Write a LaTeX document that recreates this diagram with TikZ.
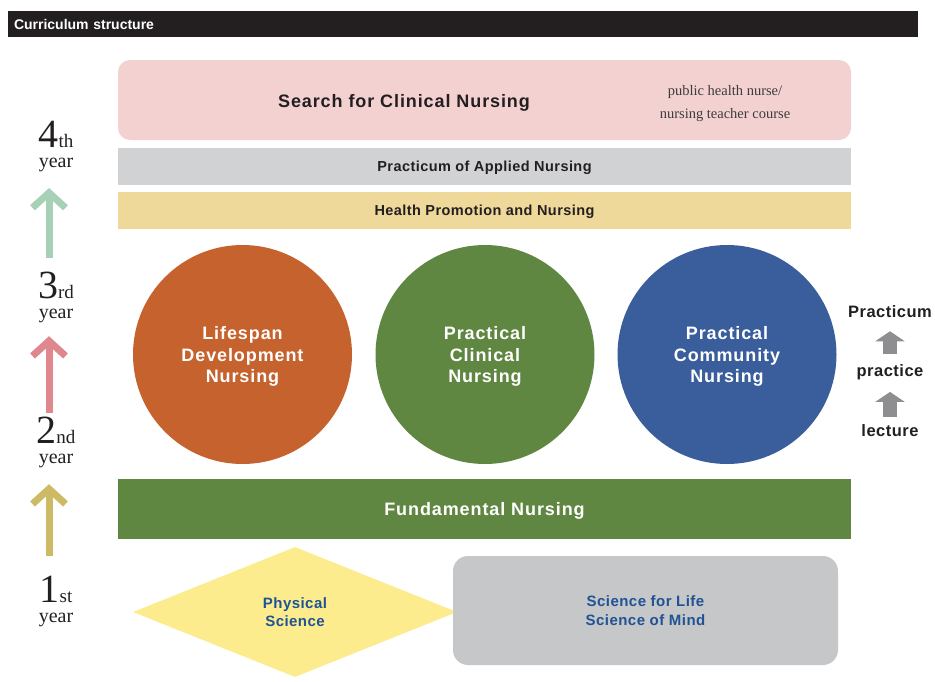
\documentclass[tikz,border=0pt]{standalone}
\usepackage{fontspec}
\setmainfont{Liberation Serif}
\setsansfont{Liberation Sans}
\newfontfamily\trackfont[LetterSpace=5]{Liberation Sans}
\newfontfamily\smalltrack[LetterSpace=3]{Liberation Sans}
\usetikzlibrary{shapes.geometric,arrows.meta}

\definecolor{headback}{RGB}{35,31,32}
\definecolor{searchpink}{RGB}{244,209,209}
\definecolor{appliedgrey}{RGB}{209,210,212}
\definecolor{promoyellow}{RGB}{238,217,154}
\definecolor{lifeorange}{RGB}{198,98,45}
\definecolor{clingreen}{RGB}{96,135,66}
\definecolor{commblue}{RGB}{58,94,155}
\definecolor{physyellow}{RGB}{252,236,142}
\definecolor{mindgrey}{RGB}{198,199,201}
\definecolor{sciblue}{RGB}{31,83,148}
\definecolor{arrowgreen}{RGB}{167,209,182}
\definecolor{arrowpink}{RGB}{224,134,141}
\definecolor{arrowgold}{RGB}{204,187,100}
\definecolor{stepgrey}{RGB}{142,142,144}
\definecolor{serifgrey}{RGB}{60,60,60}

\newcommand\bigsans{\trackfont\bfseries\fontsize{18}{21.5}\selectfont}
\newcommand\barsans{\smalltrack\bfseries\fontsize{14.5}{16}\selectfont}
\newcommand\yearnum[2]{{\fontsize{40}{40}\selectfont #1}{\fontsize{19}{19}\selectfont #2}}

\tikzset{
  layer/.style={minimum width=733pt,inner sep=0pt,text depth=0pt},
  ring/.style={circle,minimum size=219pt,inner sep=0pt,text depth=-2pt,text=white,align=center,font=\bigsans},
  barlabel/.style={text=headback,font=\barsans},
  yearlbl/.style={anchor=north,inner sep=0pt,align=center,text=headback,
    font=\fontsize{20}{20}\selectfont},
  yeararrow/.style={line width=7pt,-{Straight Barb[length=15pt,width=33pt,line width=7pt]}},
  steplbl/.style={inner sep=0pt,text=headback,font=\smalltrack\bfseries\fontsize{16.5}{17}\selectfont},
  steparrow/.style={draw=stepgrey,line width=14pt,-{Triangle[length=10pt,width=29pt]}},
  scilabel/.style={text=sciblue,align=center,font=\smalltrack\bfseries\fontsize{15}{18.5}\selectfont}
}

\begin{document}
\begin{tikzpicture}[x=1pt,y=-1pt]
\useasboundingbox (0,0) rectangle (935,681);

% title bar
\node[fill=headback,text=white,minimum height=26pt,text width=898pt,inner xsep=6pt,inner ysep=0pt,
  align=left,font=\sffamily\bfseries\fontsize{14}{15}\selectfont] (head) at (463,24) {Curriculum structure};

% upper layers
\node[layer,fill=searchpink,rounded corners=12pt,minimum height=80pt] (search) at (484.5,100) {};
\node[text=headback,font=\bigsans,text depth=0pt] (searchlbl) at (404,101) {Search for Clinical Nursing};
\node[text=serifgrey,align=center,font=\fontsize{14.5}{23}\selectfont] (course) at (725,104)
  {public health nurse/\\nursing teacher course};
\node[layer,fill=appliedgrey,minimum height=37pt,barlabel] (applied) at (484.5,166.5) {Practicum of Applied Nursing};
\node[layer,fill=promoyellow,minimum height=37pt,barlabel] (promo) at (484.5,210.5) {Health Promotion and Nursing};

% the three circles
\node[ring,fill=lifeorange] (life) at (242.5,354.5) {Lifespan\\Development\\Nursing};
\node[ring,fill=clingreen] (clinic) at (485,354.5) {Practical\\Clinical\\Nursing};
\node[ring,fill=commblue] (community) at (727,354.5) {Practical\\Community\\Nursing};

\node[layer,fill=clingreen,minimum height=60pt,text=white,font=\bigsans] (fund) at (484.5,509) {Fundamental Nursing};

% basic sciences
\node[diamond,fill=physyellow,minimum width=324pt,minimum height=130pt,aspect=2.5,inner sep=0pt,scilabel]
  (phys) at (295,612) {Physical\\Science};
\node[fill=mindgrey,rounded corners=15pt,minimum width=385pt,minimum height=109pt,scilabel]
  (mind) at (645.5,610.5) {Science for Life\\Science of Mind};

% years
\node[yearlbl] (y4) at (56,121) {\yearnum{4}{th}\\year};
\node[yearlbl] (y3) at (56,272) {\yearnum{3}{rd}\\year};
\node[yearlbl] (y2) at (56,417) {\yearnum{2}{nd}\\year};
\node[yearlbl] (y1) at (56,576) {\yearnum{1}{st}\\year};

\draw[yeararrow,draw=arrowgreen,shorten <=14pt,shorten >=16pt] ([xshift=-7pt]y3.north) -- ([xshift=-7pt]y4.south);
\draw[yeararrow,draw=arrowpink,shorten <=4pt,shorten >=13pt] ([xshift=-7pt]y2.north) -- ([xshift=-7pt]y3.south);
\draw[yeararrow,draw=arrowgold,shorten <=20pt,shorten >=16pt] ([xshift=-7pt]y1.north) -- ([xshift=-7pt]y2.south);

% lecture -> practice -> practicum
\node[steplbl] (practicum) at (890,312) {Practicum};
\node[steplbl] (practice) at (890,372) {practice};
\node[steplbl] (lecture) at (890,431) {lecture};
\draw[steparrow,shorten <=8pt,shorten >=12pt] (lecture) -- (practice);
\draw[steparrow,shorten <=10pt,shorten >=13pt] (practice) -- (practicum);
\end{tikzpicture}
\end{document}
